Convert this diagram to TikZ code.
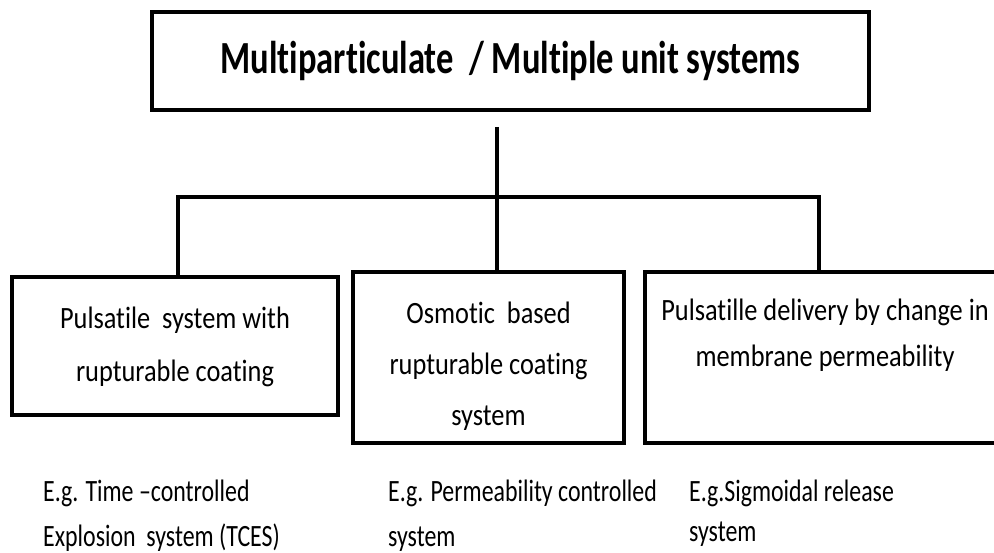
\documentclass[tikz,border=0pt]{standalone}
\usepackage{fontspec}
\setmainfont{Carlito}[FakeStretch=0.85,Ligatures=NoCommon]
\newfontfamily\titlefont{Carlito}[FakeStretch=0.75,Ligatures=NoCommon]
\newfontfamily\egfont{Carlito}[FakeStretch=0.77,Ligatures=NoCommon]
\tikzset{
    topbox/.style={draw,line width=3.5pt,minimum width=717pt,minimum height=98pt,inner sep=0pt,
        font=\titlefont\fontsize{46}{50}\selectfont\bfseries},
    sysbox/.style={draw,line width=3.5pt,inner sep=0pt},
    systxt/.style={align=center,inner sep=0pt},
    egtxt/.style={align=left,anchor=north west,inner sep=0pt,font=\egfont\fontsize{31}{45}\selectfont},
    conn/.style={line width=3.5pt},
}

\begin{document}
\begin{tikzpicture}[x=1pt,y=-1pt]
\useasboundingbox (0,0) rectangle (994,553);
% heading
\node[topbox] (top) at (510.5,61) {Multiparticulate\ \ / Multiple unit systems};
% the three kinds
\node[sysbox,minimum width=326pt,minimum height=138pt] (sys1) at (175,346) {};
\node[sysbox,minimum width=271pt,minimum height=171pt] (sys2) at (488.5,357.5) {};
\node[sysbox,minimum width=354pt,minimum height=171pt] (sys3) at (822,357.5) {};
\node[systxt,font=\fontsize{31}{53}\selectfont] (sys1txt) at (175,346.5)
    {Pulsatile\ \ system with\\rupturable coating};
\node[systxt,font=\fontsize{31}{51}\selectfont] (sys2txt) at (488.5,366)
    {Osmotic\ \ based\\rupturable coating\\system};
\node[systxt,font=\fontsize{31}{46}\selectfont] (sys3txt) at (825,335)
    {Pulsatille delivery by change in\\membrane permeability};
% examples
\node[egtxt] (eg1) at (43,480) {E.g. Time –controlled\\Explosion\ \ system (TCES)};
\node[egtxt] (eg2) at (388,480) {E.g. Permeability controlled\\system};
\node[egtxt,font=\egfont\fontsize{31}{40}\selectfont] (eg3) at (689,480) {E.g.Sigmoidal release\\system};
% connectors
\coordinate (stem) at (497,127);
\coordinate (lft) at (178,197);
\coordinate (rgt) at (819,197);
\draw[conn] (stem) -- (sys2.north -| stem);
\draw[conn] (sys1.north -| lft) -- (lft) -- (rgt) -- (sys3.north -| rgt);
\end{tikzpicture}
\end{document}
